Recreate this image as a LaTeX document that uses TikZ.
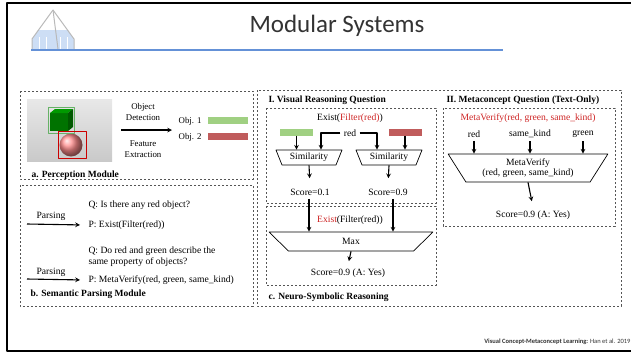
\documentclass[tikz,border=0pt]{standalone}
\usepackage{fontspec}
\setmainfont{Liberation Serif}
\newfontfamily\slidefont{Carlito}
\usetikzlibrary{shapes.geometric}
\definecolor{barG}{RGB}{160,208,130}
\definecolor{barR}{RGB}{192,92,92}
\definecolor{txtR}{RGB}{205,35,35}
\definecolor{ruleB}{RGB}{100,145,215}
\definecolor{boxC}{RGB}{85,85,85}
\definecolor{glass}{RGB}{205,222,245}
\tikzset{
  dbox/.style={draw=boxC, dash pattern=on 2.4pt off 1.6pt, line width=0.6pt},
  trap/.style={draw, line width=0.7pt, trapezium, shape border rotate=180,
    trapezium stretches=true, inner sep=0pt, align=center},
  arr/.style={->, line width=1.1pt},
  bar/.style={minimum width=40pt, minimum height=7pt, inner sep=0pt},
  ttl/.style={anchor=west, font=\fontsize{9.5}{11}\selectfont\bfseries},
}
\begin{document}
\begin{tikzpicture}[x=1pt, y=-1pt, font=\fontsize{9.6}{11.5}\selectfont, line join=round, >=stealth]
\useasboundingbox (0,0) rectangle (631,354);
\draw[line width=2.5pt] (632,3) -- (7,3) -- (7,351) -- (632,351);
% logo and title
\fill[glass] (32,40) -- (38,30) -- (68,30) -- (74,40) -- (74,49) -- (32,49) -- cycle;
\foreach \x in {39,46,60,67} \draw[white, line width=0.8pt] (\x,37) -- (\x,49);
\draw[gray!55, line width=1pt] (32,49) -- (32,39) -- (53,10) -- (74,39) -- (74,49);
\draw[gray!55, line width=1pt] (53,10) -- (58,49);
\node[font=\slidefont\fontsize{25}{28}\selectfont, text=black!80] (title) at (337,26) {Modular Systems};
\draw[ruleB, line width=1.5pt] (31,50) -- (503,50);
% panels
\draw[dbox] (20,91) rectangle (253,179);
\draw[dbox] (20,185) rectangle (253,306);
\draw[dbox] (257,90) rectangle (621,306);
\draw[dbox] (266,108) rectangle (436,203);
\draw[dbox] (266,206) rectangle (436,285);
\draw[dbox] (443,108) rectangle (615,226);
% a. perception
\shade[top color=gray!18, bottom color=gray!42] (27,99) rectangle (112,161);
\fill[green!45!black] (50,113) rectangle (68,131);
\fill[green!60!black] (50,113) -- (55,109) -- (73,109) -- (68,113) -- cycle;
\fill[green!35!black] (68,113) -- (73,109) -- (73,127) -- (68,131) -- cycle;
\shade[ball color=red!45] (71,145) circle (11.5);
\draw[green!50!black!60, line width=1pt] (48,107) rectangle (74,133);
\draw[red!80!black, line width=1pt] (58,131) rectangle (86,158);
\node[align=center, font=\fontsize{8.8}{11.5}\selectfont] (det) at (143,112) {Object\\Detection};
\node[align=center, font=\fontsize{8.8}{11.5}\selectfont] (feat) at (143,149) {Feature\\Extraction};
\coordinate (detS) at (121,130);
\coordinate (detE) at (172,130);
\draw[arr] (detS) -- (detE);
\foreach \i/\y/\c in {1/121/barG,2/137/barR}
  {
    \node[anchor=east, font=\fontsize{8.8}{10}\selectfont] (obj\i) at (205,\y) {Obj. \i};
    \node[bar, fill=\c, anchor=west] (vec\i) at (208,\y-0.5) {};
  }
\node[ttl] (labA) at (28,175) {a. Perception Module};
% b. semantic parsing
\node[anchor=west] (q1) at (85,205) {Q: Is there any red object?};
\node[anchor=west] (p1) at (85,225) {P: Exist(Filter(red))};
\node (pa1) at (51,216) {Parsing};
\coordinate (pa1S) at (27,224);
\draw[arr, shorten >=5pt] (pa1S) -- (p1.west);
\node[anchor=west, align=left] (q2) at (85,256.5) {Q: Do red and green describe the\\same property of objects?};
\node[anchor=west] (p2) at (85,280) {P: MetaVerify(red, green, same\_kind)};
\node (pa2) at (51,272) {Parsing};
\coordinate (pa2S) at (27,279);
\draw[arr, shorten >=5pt] (pa2S) -- (p2.west);
\node[ttl] (labB) at (27,294) {b. Semantic Parsing Module};
% I. visual reasoning
\node[ttl] (labI) at (265,100) {I. Visual Reasoning Question};
\node (ex1) at (350,118) {Exist(\textcolor{txtR}{Filter(red)})};
\node[bar, minimum width=33pt, fill=barG] (gL) at (296.5,132) {};
\node[bar, minimum width=33pt, fill=barR] (bR) at (405,132) {};
\node (rd) at (350,133) {red};
\node[trap, minimum width=66pt, minimum height=15pt, trapezium left angle=64, trapezium right angle=64] (simL) at (309,157.5) {Similarity};
\node[trap, minimum width=66pt, minimum height=15pt, trapezium left angle=64, trapezium right angle=64] (simR) at (389,157.5) {Similarity};
\draw[arr] (gL.south) -- (gL.south |- simL.north);
\draw[arr] (bR.south) -- (bR.south |- simR.north);
\draw[arr] (rd.west) -| ([xshift=12pt]simL.north);
\draw[arr] (rd.east) -| ([xshift=-12pt]simR.north);
\node (scL) at (310,192) {Score=0.1};
\node (scR) at (388,192) {Score=0.9};
\draw[arr, shorten >=7pt] (simL.south) -- (scL.north);
\draw[arr, shorten >=7pt] (simR.south) -- (scR.north);
% c. neuro-symbolic
\node (ex2) at (350,220) {\textcolor{txtR}{Exist}(Filter(red))};
\node[trap, minimum width=164pt, minimum height=19pt, trapezium left angle=67, trapezium right angle=67] (mx) at (351,241.5) {Max};
\draw[arr] ([xshift=-1pt]scL.south) -- ([xshift=-1pt]scL.south |- mx.north);
\draw[arr] ([xshift=5pt]scR.south) -- ([xshift=5pt]scR.south |- mx.north);
\node (sc3) at (348,273) {Score=0.9 (A: Yes)};
\draw[arr, shorten >=4pt] (mx.south) -- (sc3.north);
\node[ttl] (labC) at (265,297) {c. Neuro-Symbolic Reasoning};
% II. metaconcept
\node[ttl] (labII) at (443,100) {II. Metaconcept Question (Text-Only)};
\node[text=txtR] (mv1) at (528,118) {MetaVerify(red, green, same\_kind)};
\node[trap, minimum width=160pt, minimum height=28pt, trapezium left angle=56, trapezium right angle=56, font=\fontsize{9.6}{10.5}\selectfont] (mvT) at (528,168) {MetaVerify\\(red, green, same\_kind)};
\foreach \n/\x/\t in {cr/474/red, ck/530/same\_kind, cg/583/green}
  {
    \node (\n) at (\x,134) {\t};
    \draw[arr] (\n.south) -- (\n.south |- mvT.north);
  }
\node (sc4) at (533,215) {Score=0.9 (A: Yes)};
\draw[arr, shorten >=6pt] (mvT.south) -- (sc4.north);
\node[anchor=east, text=black!80, font=\slidefont\fontsize{6.5}{7}\selectfont] (cite) at (634,342) {\textbf{Visual Concept-Metaconcept Learning:} Han et al. 2019};
\end{tikzpicture}
\end{document}
